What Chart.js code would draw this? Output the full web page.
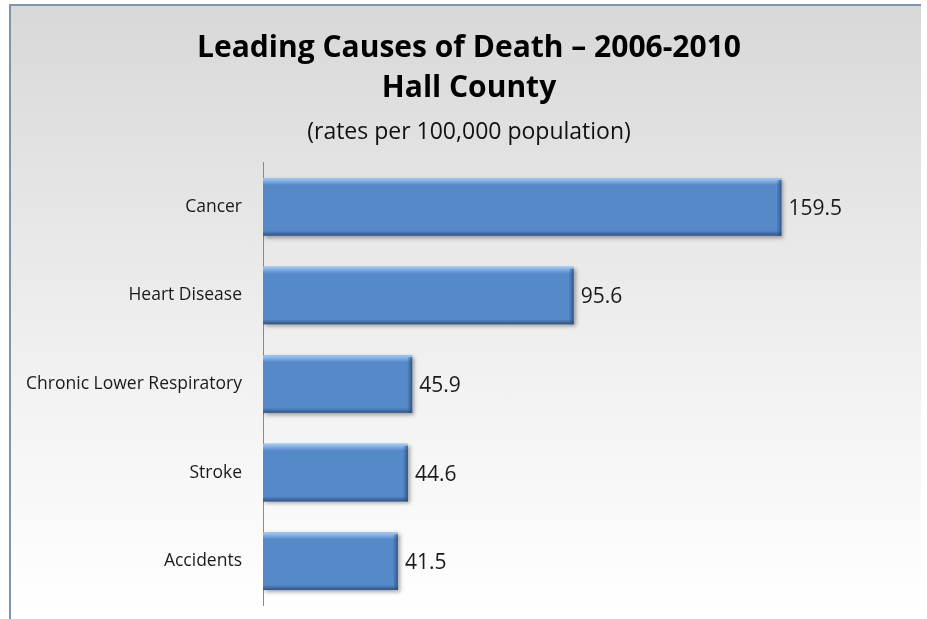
<!DOCTYPE html>
<html>
<head>
<meta charset="utf-8">
<script src="https://cdn.jsdelivr.net/npm/chart.js@4"></script>
<style>
  html, body { margin: 0; padding: 0; background: #fff; overflow: hidden; }
  #frame {
    position: absolute; left: 9px; top: 4px; width: 912px; height: 640px;
    border-left: 2px solid #8193ab; border-top: 2px solid #8193ab;
    box-sizing: border-box;
    background: linear-gradient(to bottom, #d8d8d8 0%, #f0f0f0 55%, #ffffff 95%);
  }
  #chart { display: block; }
</style>
</head>
<body>
<div id="frame"><canvas id="chart" width="910" height="631"></canvas></div>
<script>
// Leading causes of death, Hall County, 2006-2010 (rates per 100,000)
const causes = ["Cancer", "Heart Disease", "Chronic Lower Respiratory", "Stroke", "Accidents"];
const rates = [159.5, 95.6, 45.9, 44.6, 41.5];

const titleLines = ["Leading Causes of Death \u2013 2006-2010", "Hall County"];
const subtitleText = "(rates per 100,000 population)";

const FONT = "'Open Sans', 'Noto Sans', sans-serif";
const BAR_BLUE = "#5589c8";

// soft drop shadow under the bars
const barShadow = {
  id: "barShadow",
  beforeDatasetsDraw(chart) {
    const c = chart.ctx;
    c.save();
    c.shadowColor = "rgba(0,0,0,0.35)";
    c.shadowBlur = 4;
    c.shadowOffsetX = 2;
    c.shadowOffsetY = 2;
  },
  afterDatasetsDraw(chart) {
    chart.ctx.restore();
  },
};

// bevel edges + value labels at the end of each bar
const barDecor = {
  id: "barDecor",
  afterDatasetsDraw(chart) {
    const c = chart.ctx;
    const meta = chart.getDatasetMeta(0);
    meta.data.forEach((bar, i) => {
      const left = bar.base, right = bar.x;
      const top = bar.y - bar.height / 2, bottom = bar.y + bar.height / 2;
      c.save();
      // light top edge
      let g = c.createLinearGradient(0, top, 0, top + 7);
      g.addColorStop(0, "rgba(170,205,245,0.95)");
      g.addColorStop(1, "rgba(170,205,245,0)");
      c.fillStyle = g;
      c.fillRect(left, top, right - left, 7);
      // dark bottom edge
      g = c.createLinearGradient(0, bottom - 5, 0, bottom);
      g.addColorStop(0, "rgba(40,75,125,0)");
      g.addColorStop(1, "rgba(40,75,125,0.85)");
      c.fillStyle = g;
      c.fillRect(left, bottom - 5, right - left, 5);
      // dark right end
      g = c.createLinearGradient(right - 5, 0, right, 0);
      g.addColorStop(0, "rgba(40,75,125,0)");
      g.addColorStop(1, "rgba(40,75,125,0.8)");
      c.fillStyle = g;
      c.fillRect(right - 5, top + 2, 5, bottom - top - 2);
      // value label
      c.fillStyle = "#1a1a1a";
      c.font = "21px " + FONT;
      c.textAlign = "left";
      c.textBaseline = "middle";
      c.fillText(rates[i].toFixed(1), right + 7, bar.y + 2);
      c.restore();
    });
  },
};

new Chart(document.getElementById("chart"), {
  type: "bar",
  data: {
    labels: causes,
    datasets: [{
      data: rates,
      backgroundColor: BAR_BLUE,
      borderWidth: 0,
      barPercentage: 0.65,
      categoryPercentage: 1,
    }],
  },
  options: {
    indexAxis: "y",
    responsive: false,
    maintainAspectRatio: false,
    animation: false,
    layout: { padding: { left: 14, right: 8, top: 0, bottom: 5 } },
    plugins: {
      legend: { display: false },
      tooltip: { enabled: false },
      title: {
        display: true,
        text: titleLines,
        color: "#000",
        font: { family: FONT, size: 30, weight: "bold", lineHeight: 1.333 },
        padding: { top: 22, bottom: 5 },
      },
      subtitle: {
        display: true,
        text: subtitleText,
        color: "#111",
        font: { family: FONT, size: 23, lineHeight: 1.2 },
        padding: { top: 6, bottom: 16 },
      },
    },
    scales: {
      x: { display: false, min: 0, max: 200 },
      y: {
        afterFit: (s) => { s.width = 238; },
        grid: { display: false, drawTicks: false },
        border: { display: true, color: "#8a8a8a", width: 1 },
        ticks: { color: "#1a1a1a", padding: 21, font: { family: FONT, size: 17.5 } },
      },
    },
  },
  plugins: [barShadow, barDecor],
});
</script>
</body>
</html>
